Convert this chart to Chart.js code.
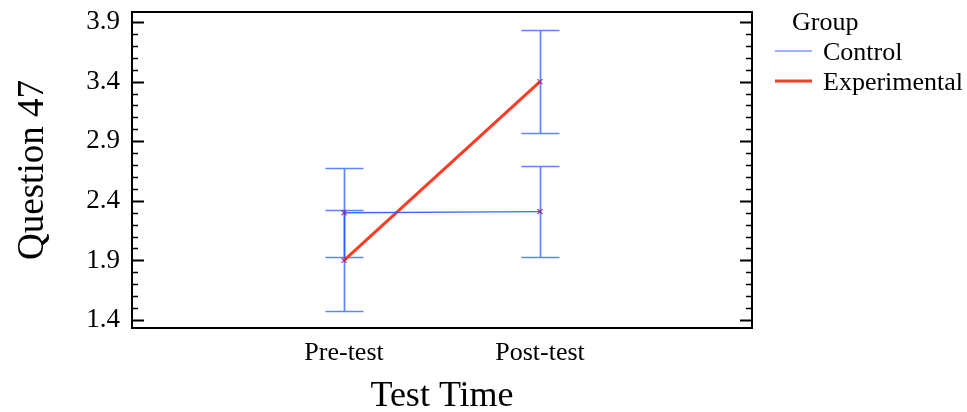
<!DOCTYPE html>
<html>
<head>
<meta charset="utf-8">
<script src="https://cdn.jsdelivr.net/npm/chart.js@4"></script>
<style>
  html, body { margin: 0; padding: 0; background: #fff; }
  #wrap { width: 967px; height: 412px; }
</style>
</head>
<body>
<div id="wrap"><canvas id="chart" width="967" height="412"></canvas></div>
<script>
// Data
const timeLabels = ['Pre-test', 'Post-test'];
const timePos = [1, 2];
const groupNames = ['Control', 'Experimental'];
const controlMean = [2.30, 2.31];
const controlErr = [0.375, 0.38];
const expMean = [1.90, 3.40];
const expErr = [0.425, 0.43];
const yTicks = [1.4, 1.9, 2.4, 2.9, 3.4, 3.9];
const yMinorStep = 0.1;

const serif = "'Liberation Serif', 'DejaVu Serif', serif";
const controlColor = 'rgba(35, 90, 255, 0.9)';
const expColor = '#ff3b24';
const barColor = 'rgba(25, 80, 255, 0.7)';

// Frame, inward ticks, error bars, legend
const decorPlugin = {
    id: 'decor',
    beforeDatasetsDraw(chart) {
        const ctx = chart.ctx;
        const x = chart.scales.x, y = chart.scales.y;
        const series = [[controlMean, controlErr], [expMean, expErr]];
        ctx.save();
        ctx.strokeStyle = barColor;
        ctx.lineWidth = 1.7;
        series.forEach(([means, errs]) => {
            timePos.forEach((p, i) => {
                const px = Math.round(x.getPixelForValue(p)) + 0.5;
                const top = Math.round(y.getPixelForValue(means[i] + errs[i])) + 0.5;
                const bot = Math.round(y.getPixelForValue(means[i] - errs[i])) + 0.5;
                ctx.beginPath();
                ctx.moveTo(px, top); ctx.lineTo(px, bot);
                ctx.moveTo(px - 19, top); ctx.lineTo(px + 19, top);
                ctx.moveTo(px - 19, bot); ctx.lineTo(px + 19, bot);
                ctx.stroke();
            });
        });
        ctx.restore();
    },
    afterDraw(chart) {
        const ctx = chart.ctx;
        const a = chart.chartArea;
        const y = chart.scales.y;
        ctx.save();
        ctx.strokeStyle = '#000';
        ctx.lineWidth = 2;
        ctx.strokeRect(a.left, a.top, a.right - a.left, a.bottom - a.top);

        // minor + major ticks pointing inward on both sides
        const lo = yTicks[0], hi = yTicks[yTicks.length - 1];
        const n = Math.round((hi - lo) / yMinorStep);
        for (let k = 0; k <= n; k++) {
            const v = lo + k * yMinorStep;
            const py = Math.round(y.getPixelForValue(v)) + 0.5;
            const major = k % 5 === 0;
            const len = major ? 12 : 6;
            ctx.lineWidth = major ? 2 : 1.3;
            ctx.beginPath();
            ctx.moveTo(a.left, py); ctx.lineTo(a.left + len, py);
            ctx.moveTo(a.right, py); ctx.lineTo(a.right - len, py);
            ctx.stroke();
        }

        // legend
        ctx.fillStyle = '#000';
        ctx.font = '26px ' + serif;
        ctx.textBaseline = 'alphabetic';
        ctx.fillText('Group', 792, 30);
        const colors = [controlColor, expColor];
        const widths = [1.2, 3];
        const rows = [51, 81];
        groupNames.forEach((name, i) => {
            ctx.strokeStyle = colors[i];
            ctx.lineWidth = widths[i];
            ctx.beginPath();
            ctx.moveTo(775, rows[i]); ctx.lineTo(812, rows[i]);
            ctx.stroke();
            ctx.fillText(name, 823, rows[i] + 9);
        });
        ctx.restore();
    }
};

new Chart(document.getElementById('chart'), {
    type: 'line',
    data: {
        datasets: [
            {
                label: groupNames[0],
                data: timePos.map((p, i) => ({ x: p, y: controlMean[i] })),
                borderColor: controlColor,
                borderWidth: 1.3,
                pointStyle: 'crossRot',
                pointRadius: 3.5,
                pointBorderColor: 'rgba(150, 40, 120, 0.85)',
                pointBorderWidth: 1.3,
                tension: 0
            },
            {
                label: groupNames[1],
                data: timePos.map((p, i) => ({ x: p, y: expMean[i] })),
                borderColor: expColor,
                borderWidth: 3,
                pointStyle: 'crossRot',
                pointRadius: 3.5,
                pointBorderColor: 'rgba(150, 40, 120, 0.85)',
                pointBorderWidth: 1.3,
                tension: 0
            }
        ]
    },
    options: {
        responsive: false,
        animation: false,
        layout: { padding: { left: 0, right: 215, top: 12, bottom: 0 } },
        plugins: {
            legend: { display: false },
            tooltip: { enabled: false }
        },
        scales: {
            x: {
                type: 'linear',
                min: -0.082,
                max: 3.082,
                afterBuildTicks: s => { s.ticks = timePos.map(v => ({ value: v })); },
                afterFit: s => { s.height = 84; s.paddingLeft = 0; s.paddingRight = 0; },
                grid: { display: false, drawTicks: false },
                border: { display: false },
                ticks: {
                    padding: 10,
                    color: '#000',
                    font: { family: serif, size: 26 },
                    callback: v => timeLabels[timePos.indexOf(v)] || ''
                },
                title: {
                    display: true,
                    text: 'Test Time',
                    color: '#000',
                    font: { family: serif, size: 36, lineHeight: 0.85 },
                    padding: { top: 0, bottom: 0 }
                }
            },
            y: {
                min: 1.333,
                max: 3.984,
                afterBuildTicks: s => { s.ticks = yTicks.map(v => ({ value: v })); },
                afterFit: s => { s.width = 132; s.paddingTop = 0; s.paddingBottom = 0; },
                grid: { display: false, drawTicks: false },
                border: { display: false },
                ticks: {
                    padding: 12,
                    color: '#000',
                    font: { family: serif, size: 27 },
                    callback: v => v.toFixed(1)
                },
                title: {
                    display: true,
                    text: 'Question 47',
                    color: '#000',
                    font: { family: serif, size: 37, lineHeight: 1 },
                    padding: { top: 15, bottom: 0 }
                }
            }
        }
    },
    plugins: [decorPlugin]
});
</script>
</body>
</html>
